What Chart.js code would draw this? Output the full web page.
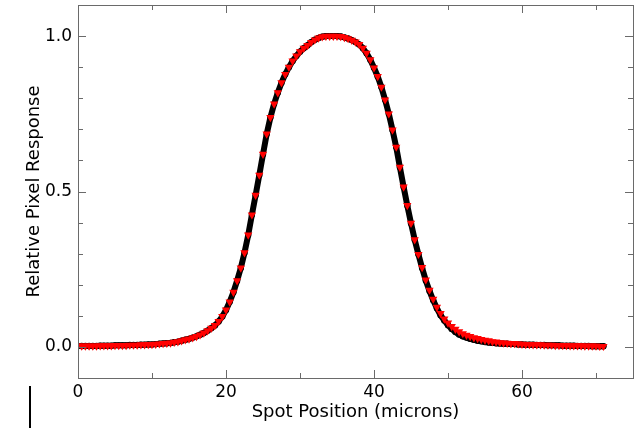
<!DOCTYPE html>
<html>
<head>
<meta charset="utf-8">
<script src="https://cdn.jsdelivr.net/npm/chart.js@4/dist/chart.umd.min.js"></script>
<style>
    html, body { margin: 0; padding: 0; background: #fff; }
    #wrap { width: 639px; height: 428px; }
</style>
</head>
<body>
<div id="wrap"><canvas id="chart" width="639" height="428"></canvas></div>
<script>
// Spot positions (microns), one sample every half micron
const spotPositions = [
    0, 0.5, 1, 1.5, 2, 2.5, 3, 3.5, 4, 4.5, 5, 5.5, 6, 6.5, 7, 7.5, 8, 8.5, 9, 9.5,
    10, 10.5, 11, 11.5, 12, 12.5, 13, 13.5, 14, 14.5, 15, 15.5, 16, 16.5, 17, 17.5, 18, 18.5, 19, 19.5,
    20, 20.5, 21, 21.5, 22, 22.5, 23, 23.5, 24, 24.5, 25, 25.5, 26, 26.5, 27, 27.5, 28, 28.5, 29, 29.5,
    30, 30.5, 31, 31.5, 32, 32.5, 33, 33.5, 34, 34.5, 35, 35.5, 36, 36.5, 37, 37.5, 38, 38.5, 39, 39.5,
    40, 40.5, 41, 41.5, 42, 42.5, 43, 43.5, 44, 44.5, 45, 45.5, 46, 46.5, 47, 47.5, 48, 48.5, 49, 49.5,
    50, 50.5, 51, 51.5, 52, 52.5, 53, 53.5, 54, 54.5, 55, 55.5, 56, 56.5, 57, 57.5, 58, 58.5, 59, 59.5,
    60, 60.5, 61, 61.5, 62, 62.5, 63, 63.5, 64, 64.5, 65, 65.5, 66, 66.5, 67, 67.5, 68, 68.5, 69, 69.5,
    70, 70.5, 71
];

// Black curve (circles)
const blackResponse = [
    0.003, 0.003, 0.003, 0.003, 0.003, 0.003, 0.004, 0.004, 0.004, 0.004, 0.005, 0.005, 0.005, 0.005, 0.006, 0.006, 0.006, 0.007, 0.007, 0.008,
    0.008, 0.009, 0.010, 0.011, 0.012, 0.013, 0.015, 0.017, 0.020, 0.023, 0.026, 0.030, 0.034, 0.039, 0.045, 0.052, 0.060, 0.069, 0.082, 0.098,
    0.119, 0.145, 0.176, 0.213, 0.254, 0.303, 0.360, 0.425, 0.488, 0.553, 0.620, 0.685, 0.738, 0.782, 0.818, 0.850, 0.877, 0.900, 0.920, 0.936,
    0.950, 0.961, 0.970, 0.980, 0.988, 0.994, 0.998, 1.000, 1.000, 1.000, 1.000, 0.999, 0.996, 0.992, 0.987, 0.981, 0.973, 0.961, 0.945, 0.924,
    0.898, 0.870, 0.836, 0.795, 0.750, 0.698, 0.643, 0.578, 0.515, 0.455, 0.398, 0.345, 0.298, 0.254, 0.214, 0.180, 0.150, 0.124, 0.102, 0.085,
    0.070, 0.058, 0.048, 0.040, 0.034, 0.030, 0.026, 0.023, 0.020, 0.018, 0.016, 0.014, 0.013, 0.012, 0.011, 0.010, 0.010, 0.009, 0.009, 0.008,
    0.008, 0.007, 0.007, 0.007, 0.006, 0.006, 0.006, 0.005, 0.005, 0.005, 0.005, 0.004, 0.004, 0.004, 0.004, 0.003, 0.003, 0.003, 0.003, 0.002,
    0.002, 0.002, 0.002
];

// Red curve (down triangles)
const redResponse = [
    0.003, 0.003, 0.003, 0.003, 0.003, 0.003, 0.004, 0.004, 0.004, 0.004, 0.005, 0.005, 0.005, 0.005, 0.006, 0.006, 0.006, 0.007, 0.007, 0.008,
    0.008, 0.009, 0.010, 0.011, 0.012, 0.013, 0.015, 0.017, 0.020, 0.023, 0.026, 0.030, 0.034, 0.039, 0.045, 0.052, 0.060, 0.069, 0.082, 0.098,
    0.119, 0.145, 0.176, 0.213, 0.254, 0.303, 0.360, 0.425, 0.488, 0.553, 0.620, 0.685, 0.738, 0.782, 0.818, 0.850, 0.877, 0.900, 0.920, 0.936,
    0.950, 0.961, 0.970, 0.980, 0.988, 0.994, 0.998, 1.000, 1.000, 1.000, 1.000, 0.999, 0.996, 0.992, 0.987, 0.981, 0.973, 0.961, 0.945, 0.924,
    0.898, 0.870, 0.836, 0.795, 0.750, 0.698, 0.643, 0.578, 0.515, 0.455, 0.398, 0.345, 0.298, 0.256, 0.216, 0.183, 0.154, 0.128, 0.108, 0.090,
    0.077, 0.066, 0.057, 0.049, 0.043, 0.038, 0.034, 0.030, 0.027, 0.024, 0.022, 0.020, 0.017, 0.016, 0.014, 0.013, 0.012, 0.011, 0.011, 0.010,
    0.009, 0.008, 0.008, 0.007, 0.007, 0.007, 0.006, 0.006, 0.006, 0.005, 0.005, 0.005, 0.005, 0.004, 0.004, 0.004, 0.004, 0.003, 0.003, 0.003,
    0.003, 0.002, 0.002
];

// Axis ticks
const xMajorTicks = [0, 20, 40, 60];
const xMinorTicks = [10, 30, 50, 70];
const yMajorTicks = [0, 0.5, 1.0];
const yMinorTicks = [-0.1, 0.1, 0.2, 0.3, 0.4, 0.6, 0.7, 0.8, 0.9, 1.1];

const FONT = "'DejaVu Sans', sans-serif";
const AXIS_COLOR = '#6a6a6a';

const toPoints = (xs, ys) => xs.map((x, i) => ({ x: x, y: ys[i] }));

// Draws the plot frame with inward ticks on all four sides
const frameTicks = {
    id: 'frameTicks',
    afterDraw(chart) {
        const { ctx, chartArea: a, scales } = chart;
        const xs = scales.x, ys = scales.y;
        ctx.save();
        ctx.strokeStyle = AXIS_COLOR;
        ctx.lineWidth = 1;
        ctx.strokeRect(Math.round(a.left) + 0.5, Math.round(a.top) + 0.5,
            Math.round(a.right - a.left), Math.round(a.bottom - a.top));
        ctx.beginPath();
        const xTick = (v, len) => {
            const px = Math.round(xs.getPixelForValue(v)) + 0.5;
            ctx.moveTo(px, a.bottom); ctx.lineTo(px, a.bottom - len);
            ctx.moveTo(px, a.top); ctx.lineTo(px, a.top + len);
        };
        const yTick = (v, len) => {
            const py = Math.round(ys.getPixelForValue(v)) + 0.5;
            ctx.moveTo(a.left, py); ctx.lineTo(a.left + len, py);
            ctx.moveTo(a.right, py); ctx.lineTo(a.right - len, py);
        };
        xMajorTicks.forEach(v => xTick(v, 8));
        xMinorTicks.forEach(v => xTick(v, 5));
        yMajorTicks.forEach(v => yTick(v, 8));
        yMinorTicks.forEach(v => yTick(v, 5));
        ctx.stroke();

        // stray mark below the y axis title
        ctx.strokeStyle = '#000';
        ctx.lineWidth = 2;
        ctx.beginPath();
        ctx.moveTo(30, 386);
        ctx.lineTo(30, 428);
        ctx.stroke();
        ctx.restore();
    }
};

new Chart(document.getElementById('chart'), {
    type: 'scatter',
    data: {
        datasets: [
            {
                label: 'Red',
                data: toPoints(spotPositions, redResponse),
                showLine: false,
                pointStyle: 'triangle',
                rotation: 180,
                pointRadius: 4.8,
                pointBackgroundColor: '#ff0000',
                pointBorderWidth: 0,
                borderColor: '#ff0000'
            },
            {
                label: 'Black',
                data: toPoints(spotPositions, blackResponse),
                showLine: true,
                borderColor: '#000',
                borderWidth: 6,
                borderCapStyle: 'round',
                borderJoinStyle: 'round',
                pointRadius: 3.2,
                pointBackgroundColor: '#000',
                pointBorderWidth: 0,
                tension: 0
            }
        ]
    },
    options: {
        responsive: false,
        animation: false,
        layout: { padding: { top: 5, right: 6, left: 0, bottom: 0 } },
        plugins: {
            legend: { display: false },
            tooltip: { enabled: false }
        },
        scales: {
            x: {
                type: 'linear',
                min: 0,
                max: 75,
                afterBuildTicks: s => { s.ticks = xMajorTicks.map(v => ({ value: v })); },
                afterFit: s => { s.height = 50; s.paddingLeft = 0; s.paddingRight = 0; },
                grid: { display: false, drawTicks: false },
                border: { display: false },
                ticks: {
                    padding: 4,
                    color: '#000',
                    font: { family: FONT, size: 17 },
                    callback: v => String(v)
                },
                title: {
                    display: true,
                    text: 'Spot Position (microns)',
                    color: '#000',
                    font: { family: FONT, size: 18 },
                    padding: { top: 0, bottom: 5 }
                }
            },
            y: {
                type: 'linear',
                min: -0.1,
                max: 1.1,
                afterBuildTicks: s => { s.ticks = yMajorTicks.map(v => ({ value: v })); },
                afterFit: s => { s.width = 78; s.paddingTop = 0; s.paddingBottom = 0; },
                grid: { display: false, drawTicks: false },
                border: { display: false },
                ticks: {
                    padding: 6,
                    color: '#000',
                    font: { family: FONT, size: 17 },
                    callback: v => v.toFixed(1)
                },
                title: {
                    display: true,
                    text: 'Relative Pixel Response',
                    color: '#000',
                    font: { family: FONT, size: 18 },
                    padding: { top: 24, bottom: 0 }
                }
            }
        }
    },
    plugins: [frameTicks]
});
</script>
</body>
</html>
